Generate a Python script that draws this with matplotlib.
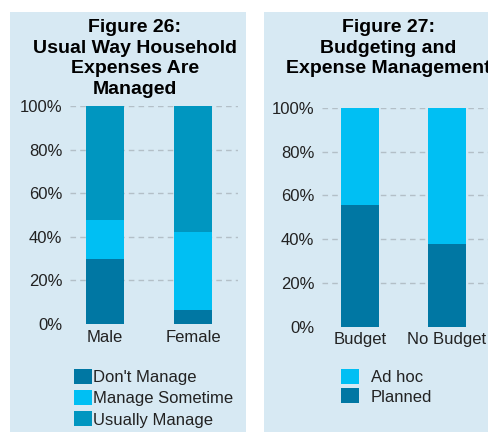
import matplotlib.pyplot as plt
from matplotlib.patches import Rectangle

plt.rcParams['font.family'] = ['Liberation Sans', 'DejaVu Sans']

# Figure 26 data (percent)
genders = ['Male', 'Female']
dont_manage = [30, 6.5]
manage_sometime = [17.5, 35.5]
usually_manage = [52.5, 58]

# Figure 27 data (percent)
budget_groups = ['Budget', 'No Budget']
planned = [55.5, 38]
ad_hoc = [44.5, 62]

ticks = [0, 20, 40, 60, 80, 100]
tick_labels = ['0%', '20%', '40%', '60%', '80%', '100%']

DARK = '#0077a3'
LIGHT = '#00bff3'
MID = '#0096c0'
BG = '#d7e9f3'

W, H = 488, 432
fig = plt.figure(figsize=(W / 100, H / 100), dpi=100)

# panel backgrounds
fig.patches.append(Rectangle((10 / W, 0), 236 / W, 1 - 12 / H, transform=fig.transFigure,
                             facecolor=BG, edgecolor='none', zorder=-1))
fig.patches.append(Rectangle((264 / W, 0), 230 / W, 1 - 12 / H, transform=fig.transFigure,
                             facecolor=BG, edgecolor='none', zorder=-1))


def style_axis(ax, labels):
    ax.set_facecolor('none')
    for s in ax.spines.values():
        s.set_visible(False)
    ax.set_ylim(0, 100)
    ax.set_yticks(ticks)
    ax.set_yticklabels(tick_labels)
    ax.set_xticks(range(len(labels)))
    ax.set_xticklabels(labels)
    ax.tick_params(length=0, labelsize=12, colors='#222222')
    ax.tick_params(axis='y', pad=5.5)
    ax.tick_params(axis='x', pad=4)
    for t in ticks[1:]:
        ax.axhline(t, color='#b3bfc7', lw=1, ls=(0, (4, 3)), zorder=0)


# Figure 26
ax1 = fig.add_axes([70 / W, (H - 324) / H, 168 / W, 218 / H])
x = range(len(genders))
bw = 0.43
b1 = ax1.bar(x, dont_manage, bw, color=DARK, zorder=2)
bottom2 = dont_manage
b2 = ax1.bar(x, manage_sometime, bw, bottom=bottom2, color=LIGHT, zorder=2)
bottom3 = [a + b for a, b in zip(dont_manage, manage_sometime)]
b3 = ax1.bar(x, usually_manage, bw, bottom=bottom3, color=MID, zorder=2)
ax1.set_xlim(-0.4, 1.51)
style_axis(ax1, genders)

fig.legend([b1, b2, b3], ["Don't Manage", 'Manage Sometime', 'Usually Manage'],
           loc='upper left', bbox_to_anchor=(74 / W, 1 - 369 / H), frameon=False,
           fontsize=12, handlelength=1.05, handleheight=1.0, handletextpad=0.1,
           labelspacing=0.3, borderpad=0, borderaxespad=0, labelcolor='#222222')

fig.text(135 / W, 1 - 19 / H, 'Figure 26:\nUsual Way Household\nExpenses Are\nManaged',
         ha='center', va='top', fontsize=14, fontweight='bold', linespacing=1.27,
         multialignment='center')

# Figure 27
ax2 = fig.add_axes([322 / W, (H - 326.7) / H, 170 / W, 218.7 / H])
x2 = range(len(budget_groups))
p1 = ax2.bar(x2, planned, 0.437, color=DARK, zorder=2)
p2 = ax2.bar(x2, ad_hoc, 0.437, bottom=planned, color=LIGHT, zorder=2)
ax2.set_xlim(-0.437, 1.52)
style_axis(ax2, budget_groups)

fig.legend([p2, p1], ['Ad hoc', 'Planned'],
           loc='upper left', bbox_to_anchor=(341 / W, 1 - 369 / H), frameon=False,
           fontsize=12, handlelength=1.05, handleheight=1.0, handletextpad=0.75,
           labelspacing=0.2, borderpad=0, borderaxespad=0, labelcolor='#222222')

fig.text(388 / W, 1 - 19 / H, 'Figure 27:\nBudgeting and\nExpense Management',
         ha='center', va='top', fontsize=14, fontweight='bold', linespacing=1.27,
         multialignment='center')

fig.savefig('out.png', dpi=100)
